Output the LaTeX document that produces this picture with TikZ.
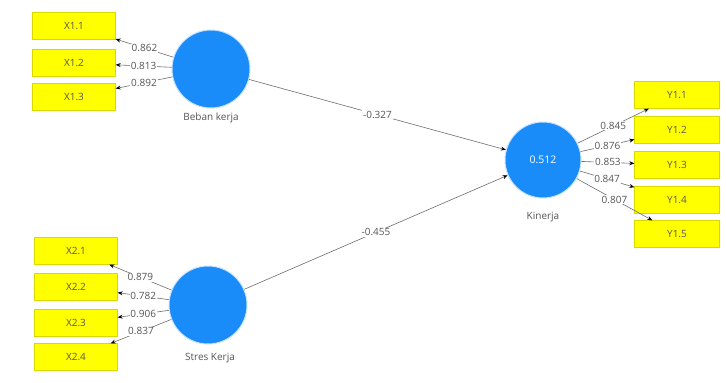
\documentclass[tikz,border=0pt]{standalone}
\usepackage{fontspec}
\setmainfont{Open Sans}
\usetikzlibrary{arrows.meta}
\definecolor{lvblue}{HTML}{1A8CFA}
\definecolor{ind}{HTML}{FFFF00}
\definecolor{txt}{HTML}{555555}
\definecolor{ln}{HTML}{6E6E6E}
\tikzset{
  lv/.style={circle, fill=lvblue, draw=lvblue!25, line width=1pt, minimum size=78pt, inner sep=0pt, text=white, font=\fontsize{10.5}{12}\selectfont},
  indbox/.style={rectangle, fill=ind, draw=ind!85!black, line width=0.3pt, minimum width=83pt, minimum height=27pt, inner sep=0pt, text=txt, font=\fontsize{10}{12}\selectfont},
  lvlabel/.style={text=txt, font=\fontsize{10}{12}\selectfont},
  path/.style={draw=ln, line width=0.6pt, -{Stealth[length=5pt,width=4pt,color=black]}},
  coef/.style={fill=white, inner sep=0.8pt, text=txt, font=\fontsize{10}{12}\selectfont, pos=0.5},
}
\begin{document}
\begin{tikzpicture}[x=1pt,y=-1pt]
\useasboundingbox (0,0) rectangle (726,383);
\fill[white] (0,0) rectangle (726,383);
% latent variables
\node[lv] (B) at (211,69) {};
\node[lvlabel] (Bl) at (211,118) {Beban kerja};
\node[lv] (S) at (208,305) {};
\node[lvlabel] (Sl) at (210,358) {Stres Kerja};
\node[lv, minimum size=76pt] (K) at (543,160) {0.512};
\node[lvlabel] (Kl) at (543,217) {Kinerja};
% indicators
\node[indbox] (x11) at (74,26) {X1.1};
\node[indbox] (x12) at (74,63) {X1.2};
\node[indbox] (x13) at (74,97) {X1.3};
\node[indbox] (x21) at (76,251) {X2.1};
\node[indbox] (x22) at (76,287) {X2.2};
\node[indbox] (x23) at (76,323) {X2.3};
\node[indbox] (x24) at (76,357) {X2.4};
\node[indbox, minimum width=85pt] (y11) at (677,95) {Y1.1};
\node[indbox, minimum width=85pt] (y12) at (677,130) {Y1.2};
\node[indbox, minimum width=85pt] (y13) at (677,165) {Y1.3};
\node[indbox, minimum width=85pt] (y14) at (677,200) {Y1.4};
\node[indbox, minimum width=85pt] (y15) at (677,234) {Y1.5};
% outer loadings
\draw[path] (B) -- (x11) node[coef] {0.862};
\draw[path] (B) -- (x12) node[coef] {0.813};
\draw[path] (B) -- (x13) node[coef] {0.892};
\draw[path] (S) -- (x21) node[coef] {0.879};
\draw[path] (S) -- (x22) node[coef] {0.782};
\draw[path] (S) -- (x23) node[coef] {0.906};
\draw[path] (S) -- (x24) node[coef] {0.837};
\draw[path] (K) -- (y11) node[coef] {0.845};
\draw[path] (K) -- (y12) node[coef] {0.876};
\draw[path] (K) -- (y13) node[coef] {0.853};
\draw[path] (K) -- (y14) node[coef] {0.847};
\draw[path] (K) -- (y15) node[coef] {0.807};
% path coefficients
\draw[path] (B) -- (K) node[coef] {-0.327};
\draw[path] (S) -- (K) node[coef] {-0.455};
\end{tikzpicture}
\end{document}
